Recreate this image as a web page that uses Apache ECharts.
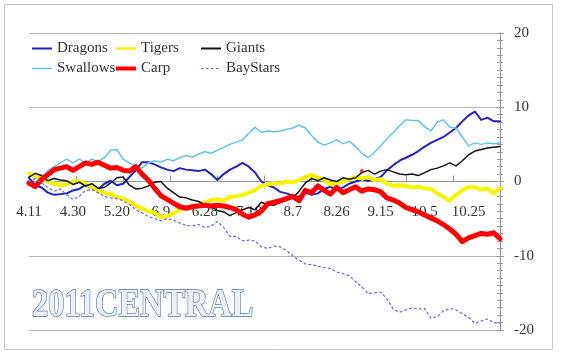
<!DOCTYPE html>
<html>
<head>
<meta charset="utf-8">
<script src="https://cdn.jsdelivr.net/npm/echarts@6/dist/echarts.min.js"></script>
<style>
html,body{margin:0;padding:0;background:#fff;}
#c{width:561px;height:353px;}
</style>
</head>
<body>
<div id="c"></div>
<script>
// x positions: game index sampled every 2 games (0..150)
const games = Array.from({length: 76}, (_, i) => i * 2);
const dateLabels = ['4.11','4.30','5.20','6.9','6.28','7.18','8.7','8.26','9.15','10.5','10.25'];

const dragons = [0.5,-0.5,-0.8,-1.5,-1.8,-1.7,-1.6,-1.2,-1.0,-0.5,
  -0.8,-1.1,-0.3,0.1,-0.5,-0.3,0.6,1.5,2.6,2.6,
  2.3,1.9,1.6,1.4,1.8,1.6,1.5,1.4,1.6,1.0,
  0.2,1.0,1.6,2.0,2.5,2.0,1.2,0.0,-0.5,-0.8,
  -1.4,-1.6,-1.9,-2.1,-1.5,-1.8,-1.6,-1.0,-0.7,-1.2,
  -0.8,-0.3,0.0,0.3,0.1,0.3,0.6,1.5,2.2,2.8,
  3.2,3.6,4.1,4.7,5.2,5.6,6.0,6.6,7.2,8.1,
  8.9,9.4,8.3,8.6,8.1,8.1];
const tigers = [1.1,0.8,0.5,0.0,-0.3,-0.5,-0.4,0.0,0.0,-0.3,
  -0.7,-1.3,-1.5,-1.7,-2.1,-2.3,-2.7,-3.3,-3.6,-4.0,
  -4.2,-4.8,-4.7,-4.3,-3.8,-3.5,-3.4,-3.2,-2.8,-2.5,
  -2.4,-2.6,-2.1,-2.0,-1.8,-1.5,-1.2,-0.6,-0.4,-0.2,
  -0.3,0.0,-0.1,0.2,0.6,0.9,0.5,0.3,-0.4,-0.2,
  0.0,0.3,0.6,0.4,0.6,0.2,0.3,-0.3,-0.6,-0.5,
  -0.6,-0.8,-0.7,-0.9,-1.0,-1.6,-2.1,-2.6,-1.8,-1.2,
  -0.7,-0.8,-1.1,-0.9,-1.6,-0.9];
const giants = [0.6,1.1,0.8,0.1,0.4,0.2,0.1,-0.4,-0.1,-0.6,
  -0.3,-0.9,-0.8,-0.2,0.5,0.6,-0.5,-1.0,-0.9,-0.6,
  -0.1,0.0,-0.9,-1.5,-2.1,-2.2,-2.5,-2.7,-3.1,-3.4,
  -3.9,-4.1,-4.6,-4.2,-3.8,-3.5,-3.8,-2.8,-3.1,-3.2,
  -2.8,-2.5,-2.2,-1.3,-0.2,0.4,0.1,0.5,0.2,0.0,
  0.5,0.3,0.5,1.2,1.5,1.0,1.4,1.6,1.3,1.0,
  0.9,1.0,0.8,1.2,1.6,1.8,2.1,2.5,2.1,2.8,
  3.6,4.1,4.3,4.5,4.6,4.7];
const swallows = [0,-0.5,0.5,1.5,2,2.5,3,2.5,3,2.5,
  3,2.7,3.2,4.2,4.3,3,2.5,2,1.8,2.5,
  2.8,2.6,3,2.8,3.2,3.5,3.3,3.7,4,3.8,
  4.2,4.6,5,5.3,5.6,6.5,7.3,6.6,6.8,6.7,
  6.8,7,7.2,7.6,7.2,6.2,5.3,4.9,5.2,5.6,
  5.1,5.4,4.7,3.8,3.2,3.9,4.8,5.8,6.6,7.5,
  8.3,8.2,8.2,7.4,6.8,8.0,8.3,7.3,7.2,6.0,
  4.8,5.2,5.0,5.2,5.1,5.2];
const carp = [-0.2,-0.7,0.3,0.9,1.6,1.8,2.0,1.5,2.0,2.5,
  2.3,2.6,2.2,1.8,1.9,1.5,1.4,2.0,1.0,0.2,
  -0.9,-1.9,-2.4,-2.9,-3.4,-3.6,-3.4,-3.3,-3.2,-3.3,
  -3.2,-3.3,-3.5,-3.8,-4.4,-4.8,-4.5,-4.0,-3.0,-2.8,
  -2.6,-2.3,-2.0,-2.6,-1.2,-1.5,-0.6,-1.2,-1.7,-0.8,
  -1.5,-1.1,-0.7,-1.3,-1.0,-1.1,-1.4,-2.2,-2.5,-2.9,
  -3.5,-3.8,-4.1,-4.5,-4.9,-5.3,-5.8,-6.4,-7.1,-8.1,
  -7.6,-7.3,-7.0,-7.1,-6.9,-7.7];
const baystars = [0.0,0.4,-0.2,-0.8,-1.3,-1.0,-1.8,-2.4,-2.0,-1.2,
  -1.1,-1.5,-2.0,-2.2,-2.3,-2.6,-3.1,-3.8,-4.2,-4.7,
  -5.0,-5.3,-5.0,-5.2,-5.6,-5.9,-6.0,-5.8,-6.2,-6.0,
  -5.4,-6.2,-7.4,-7.4,-8.0,-7.9,-8.0,-8.8,-9.0,-8.7,
  -8.8,-9.3,-10.0,-10.6,-11.1,-11.2,-11.4,-11.6,-11.7,-12.2,
  -12.4,-12.7,-13.5,-14.2,-15.1,-15.0,-14.9,-15.8,-17.2,-17.6,
  -17.3,-17.0,-17.2,-17.1,-18.4,-18.2,-17.4,-17.1,-17.3,-17.8,
  -18.3,-19.1,-18.8,-18.5,-19.0,-19.1];
const redDot = [[106, 1.4]];

const categories = Array.from({length: 151}, (_, i) => String(i));
const pairs = vals => games.map((g, i) => [g, vals[i]]);
const serif = 'Liberation Serif';

const GRID_TOP = 33, GRID_BOTTOM = 23, H = 353;
const zeroOffset = -((H - GRID_BOTTOM) - (GRID_TOP + (H - GRID_BOTTOM - GRID_TOP) / 2));

const lineSeries = (name, vals, color, width, type) => ({
  name, type: 'line', data: pairs(vals), symbol: 'none', showSymbol: false,
  lineStyle: {color, width, type: type || 'solid', cap: 'round', join: 'round'},
  itemStyle: {color},
  animation: false, z: 3
});

// legend line icons (bbox 20x14 kept by tiny corner marks)
const box = 'M0,0h0.01v0.01h-0.01z M20,14h0.01v0.01h-0.01z ';
const iconBar = (w) => 'path://' + box + 'M0,' + (7 - w / 2) + 'h20v' + w + 'h-20z';
const iconDash = 'path://' + box + 'M0,6.5h2.5v1h-2.5z M5,6.5h2.5v1h-2.5z M10,6.5h2.5v1h-2.5z M15,6.5h2.5v1h-2.5z';

const legendBase = {
  orient: 'vertical', top: 41, padding: 0, itemGap: 5, itemWidth: 20, itemHeight: 14,
  textStyle: {fontFamily: serif, fontSize: 15, color: '#333'},
  selectedMode: false
};

const chart = echarts.init(document.getElementById('c'), null, {renderer: 'canvas'});
chart.setOption({
  backgroundColor: '#fff',
  animation: false,
  grid: {left: 29, right: 61, top: GRID_TOP, bottom: GRID_BOTTOM, containLabel: false, outerBoundsMode: 'none'},
  legend: [
    Object.assign({}, legendBase, {left: 32, data: [
      {name: 'Dragons', icon: iconBar(2)}, {name: 'Swallows', icon: iconBar(1.5)}]}),
    Object.assign({}, legendBase, {left: 116, data: [
      {name: 'Tigers', icon: iconBar(2.5)}, {name: 'Carp', icon: iconBar(4)}]}),
    Object.assign({}, legendBase, {left: 201, data: [
      {name: 'Giants', icon: iconBar(2)}, {name: 'BayStars', icon: iconDash}]})
  ],
  xAxis: {
    type: 'category', data: categories, boundaryGap: false,
    position: 'bottom', offset: zeroOffset,
    axisLine: {show: true, onZero: false, lineStyle: {color: '#999', width: 1}},
    axisTick: {show: true, inside: true, length: 6, interval: (i) => i % 15 === 0, lineStyle: {color: '#999'}},
    axisLabel: {
      interval: (i) => i % 14 === 0,
      formatter: (v, i) => (i % 14 === 0 ? dateLabels[i / 14] : ''),
      fontFamily: serif, fontSize: 15, color: '#333', margin: 23
    },
    splitLine: {show: false}
  },
  yAxis: [
    {
      type: 'value', min: -20, max: 20, interval: 10, position: 'right',
      axisLine: {show: true, lineStyle: {color: '#999'}},
      axisTick: {show: true, length: 4, lineStyle: {color: '#999'}},
      minorTick: {show: true, splitNumber: 10, length: 3, lineStyle: {color: '#999'}},
      splitLine: {show: true, lineStyle: {color: '#b5b5b5', width: 1}},
      axisLabel: {fontFamily: serif, fontSize: 15, color: '#333', margin: 14, padding: [6, 0, 0, 0]}
    },
    {
      type: 'value', min: -20, max: 20, interval: 10, position: 'right',
      axisLine: {show: false},
      axisTick: {show: true, inside: true, length: 4, lineStyle: {color: '#999'}},
      minorTick: {show: true, splitNumber: 10, length: 3, lineStyle: {color: '#999'}},
      splitLine: {show: false},
      axisLabel: {show: false}
    }
  ],
  series: [
    lineSeries('Dragons', dragons, '#2222cc', 2),
    lineSeries('Tigers', tigers, '#f5f500', 4),
    lineSeries('Giants', giants, '#151515', 1.5),
    lineSeries('Swallows', swallows, '#62c3ea', 1.5),
    lineSeries('Carp', carp, '#ff0000', 5),
    lineSeries('BayStars', baystars, '#6a6ad8', 1.2, [2, 3]),
    {name: 'dot', type: 'scatter', data: redDot, symbolSize: 4, itemStyle: {color: '#ff0000'}, z: 4}
  ],
  graphic: [
    {type: 'rect', shape: {x: 4.5, y: 4.5, width: 548, height: 345},
     style: {fill: 'none', stroke: '#c8c8c8', lineWidth: 1}, silent: true, z: -1},
    {type: 'text', x: 32, y: 305, scaleX: 0.79, originX: 0, originY: 0,
     style: {text: '2011CENTRAL', x: 0, y: 0, font: 'bold 41px "Liberation Serif"',
       fill: '#edf1f6', stroke: '#4f78a8', lineWidth: 1.5, verticalAlign: 'middle', align: 'left'},
     silent: true, z: 10}
  ]
});
</script>
</body>
</html>
